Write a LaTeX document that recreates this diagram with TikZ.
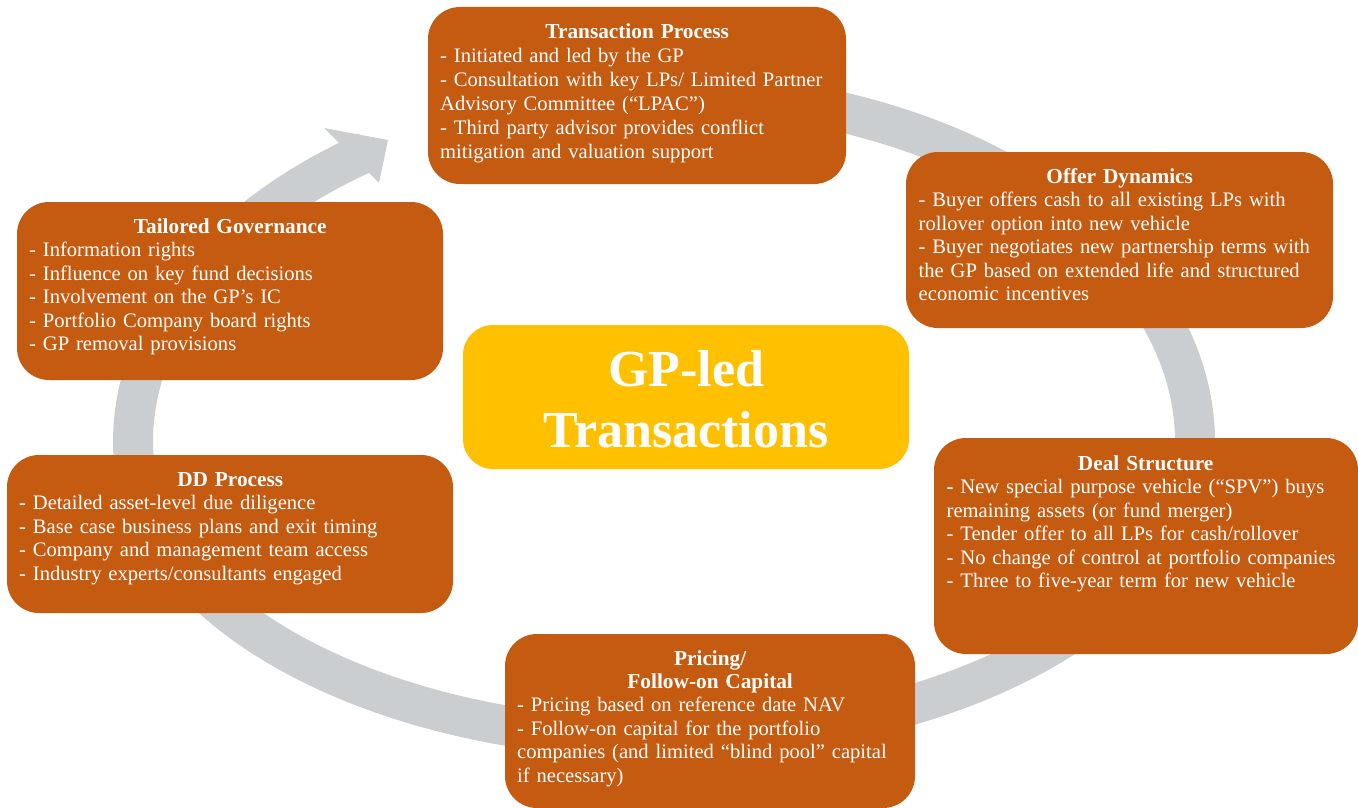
\documentclass[tikz,border=0pt]{standalone}
\usepackage{fontspec}
\setmainfont{Liberation Serif}
\definecolor{boxorange}{RGB}{197,90,17}
\definecolor{ringgray}{RGB}{203,206,209}
\definecolor{centeryellow}{RGB}{255,192,0}
\newcommand{\cardhead}[1]{{\centering\fontsize{21.3}{23.4}\selectfont\bfseries #1\par}}
\begin{document}
\begin{tikzpicture}[x=1pt,y=-1pt,
  card/.style={fill=boxorange, draw=none, rounded corners=32pt, inner sep=0pt},
  hubcard/.style={fill=centeryellow, draw=none, rounded corners=30pt, inner sep=0pt},
  cardtext/.style={anchor=base west, inner sep=0pt, text=white,
    font=\fontsize{20.6}{23.5}\selectfont},
  hubtext/.style={anchor=base, inner sep=0pt, text=white,
    font=\fontsize{52}{61}\selectfont\bfseries},
]
\useasboundingbox (0,0) rectangle (1358,808);

% grey cycle band with arrow head
\draw[ringgray, line width=40pt]
  (482.4,113.1)
  arc[start angle=250, end angle=360, x radius=531, y radius=350]
  arc[start angle=0, end angle=180, x radius=531, y radius=297]
  arc[start angle=180, end angle=236, x radius=531, y radius=350];
\fill[ringgray] (324,128) -- (388,140) -- (379,183) -- cycle;

% boxes
\node[card, minimum width=418, minimum height=177] (tp) at (637,95.5) {};
\node[card, minimum width=427, minimum height=176] (offer) at (1119.5,240) {};
\node[card, minimum width=426, minimum height=178] (gov) at (230,291) {};
\node[card, minimum width=446, minimum height=158] (dd) at (230,534) {};
\node[card, minimum width=424, minimum height=216] (deal) at (1146,546) {};
\node[card, minimum width=410, minimum height=174] (price) at (710,721) {};
\node[hubcard, minimum width=446, minimum height=144] (hub) at (686,397) {};

% texts
\node[cardtext, text width=394, font=\fontsize{20.6}{23.9}\selectfont] (tpt) at (440,39) {\raggedright
\cardhead{Transaction Process}
- Initiated and led by the GP\\
- Consultation with key LPs/ Limited Partner\\
Advisory Committee (“LPAC”)\\
- Third party advisor provides conflict\\
mitigation and valuation support\par};

\node[cardtext, text width=402] (offert) at (918.5,183) {\raggedright
\cardhead{Offer Dynamics}
- Buyer offers cash to all existing LPs with\\
rollover option into new vehicle\\
- Buyer negotiates new partnership terms with\\
the GP based on extended life and structured\\
economic incentives\par};

\node[cardtext, text width=402] (govt) at (29,233) {\raggedright
\cardhead{Tailored Governance}
- Information rights\\
- Influence on key fund decisions\\
- Involvement on the GP’s IC\\
- Portfolio Company board rights\\
- GP removal provisions\par};

\node[cardtext, text width=422] (ddt) at (19,486) {\raggedright
\cardhead{DD Process}
- Detailed asset-level due diligence\\
- Base case business plans and exit timing\\
- Company and management team access\\
- Industry experts/consultants engaged\par};

\node[cardtext, text width=398] (dealt) at (946.5,470) {\raggedright
\cardhead{Deal Structure}
\textbf{-} New special purpose vehicle (“SPV”) buys\\
remaining assets (or fund merger)\\
- Tender offer to all LPs for cash/rollover\\
- No change of control at portfolio companies\\
- Three to five-year term for new vehicle\par};

\node[cardtext, text width=386] (pricet) at (517,665) {\raggedright
\cardhead{Pricing/\\Follow-on Capital}
- Pricing based on reference date NAV\\
- Follow-on capital for the portfolio\\
companies (and limited “blind pool” capital\\
if necessary)\par};

\node[hubtext, text width=446] (hubt) at (686,386) {\centering GP-led\\Transactions\par};
\end{tikzpicture}
\end{document}
